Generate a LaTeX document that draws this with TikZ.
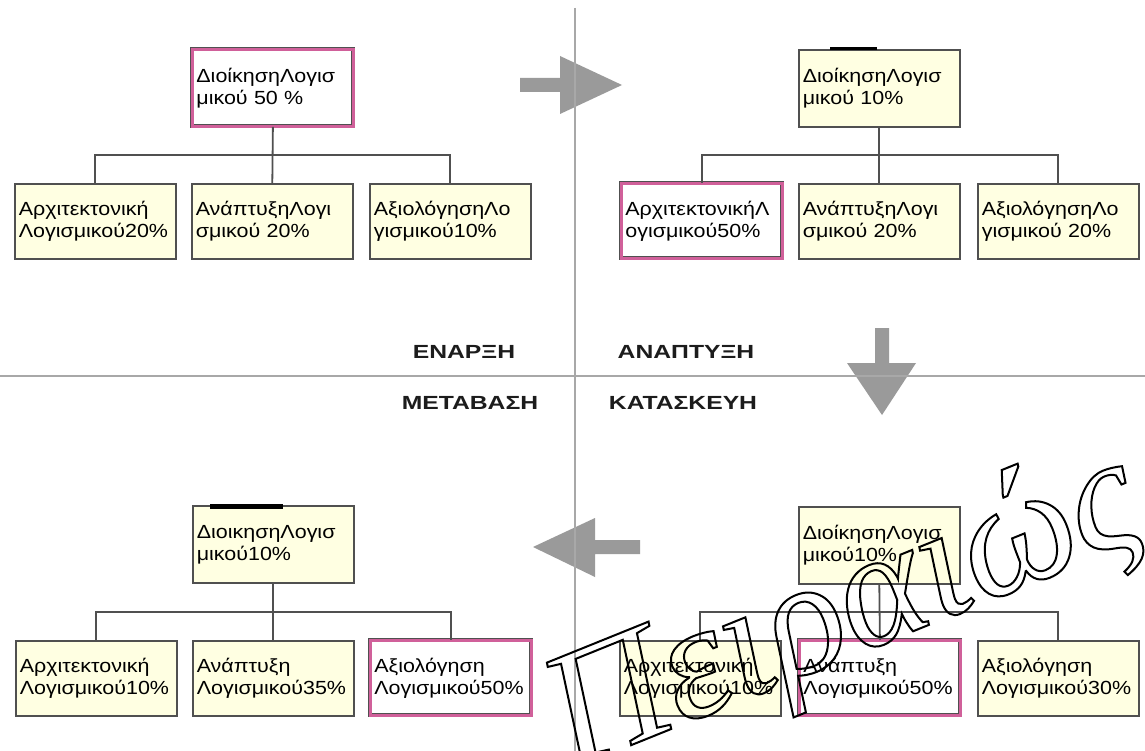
\documentclass[tikz,border=0pt]{standalone}
\usepackage{fontspec}
\setmainfont{Liberation Sans}
\newfontfamily\boxfont[FakeStretch=1.13]{Liberation Sans}
\newfontfamily\phasefont[FakeStretch=1.3]{Liberation Sans}
\newfontfamily\markfont{Liberation Serif}
\usetikzlibrary{calc}

\definecolor{boxfill}{HTML}{FFFFE2}
\definecolor{boxline}{HTML}{505050}
\definecolor{hilite}{HTML}{D0609A}
\definecolor{divider}{HTML}{A8A8A8}
\definecolor{arrowgray}{HTML}{9A9A9A}
\definecolor{phaseink}{HTML}{1C1C1C}

\tikzset{
  unit/.style={anchor=north west, draw=boxline, line width=1.6pt, fill=boxfill,
    inner xsep=4pt, inner ysep=0pt, text width=153pt, align=left,
    font=\boxfont\fontsize{19}{22}\selectfont},
  rootbox/.style={unit, minimum height=77pt},
  childbox/.style={unit, minimum height=75pt},
  hot/.style={fill=white, draw=boxline, line width=0.8pt, double=hilite, double distance=2.4pt},
  link/.style={draw=boxline, line width=1.8pt},
  phase/.style={font=\phasefont\bfseries\fontsize{19}{22}\selectfont, text=phaseink},
  blockarrow/.style={fill=arrowgray},
  rule/.style={draw=divider, line width=2.6pt}
}

\begin{document}
\begin{tikzpicture}[x=1pt, y=-1pt]
\useasboundingbox[fill=white] (0,0) rectangle (1145,751);

% block arrows between the phases
\fill[blockarrow] (520,78) -- (560,78) -- (560,56) -- (622,85) -- (560,114) -- (560,92) -- (520,92) -- cycle;
\fill[blockarrow] (875,328) -- (889,328) -- (889,363) -- (916,363) -- (882,415) -- (847,363) -- (875,363) -- cycle;
\fill[blockarrow] (640,540) -- (595,540) -- (595,518) -- (533,547) -- (595,577) -- (595,554) -- (640,554) -- cycle;

% quadrant dividers
\draw[rule] (575,8) -- (575,751);
\draw[rule] (0,376) -- (1145,376);

% phase names
\node[phase] (enarxi) at (464,352) {ΕΝΑΡΞΗ};
\node[phase] (anaptyxi) at (686,352) {ΑΝΑΠΤΥΞΗ};
\node[phase] (metavasi) at (470,403) {ΜΕΤΑΒΑΣΗ};
\node[phase] (kataskevi) at (683,403) {ΚΑΤΑΣΚΕΥΗ};

% ---- inception
\node[rootbox, hot] (aR) at (192,49) {ΔιοίκησηΛογισ\\μικού 50 \%};
\node[childbox] (aA) at (14,183) {Αρχιτεκτονική\\Λογισμικού20\%};
\node[childbox] (aB) at (191,183) {ΑνάπτυξηΛογι\\σμικού 20\%};
\node[childbox] (aC) at (369,183) {ΑξιολόγησηΛο\\γισμικού10\%};
\draw[link] (aR.south) -- (aB.north);
\draw[link] (aA.north) |- ($(aR.south)!.5!(aB.north)$) -| (aC.north);

% ---- elaboration
\node[rootbox] (bR) at (798,49) {ΔιοίκησηΛογισ\\μικού 10\%};
\node[childbox, hot] (bA) at (621,183) {ΑρχιτεκτονικήΛ\\ογισμικού50\%};
\node[childbox] (bB) at (798,183) {ΑνάπτυξηΛογι\\σμικού 20\%};
\node[childbox] (bC) at (977,183) {ΑξιολόγησηΛο\\γισμικού 20\%};
\draw[link] (bR.south) -- (bB.north);
\draw[link] (bA.north) |- ($(bR.south)!.5!(bB.north)$) -| (bC.north);
\draw[line width=3pt, black] ($(bR.north west)+(32,0)$) -- ($(bR.north west)+(79,0)$);

% ---- construction
\node[rootbox] (cR) at (798,506) {ΔιοίκησηΛογισ\\μικού10\%};
\node[childbox] (cA) at (619,640) {Αρχιτεκτονική\\Λογισμικού10\%};
\node[childbox, hot] (cB) at (799,640) {Ανάπτυξη\\Λογισμικού50\%};
\node[childbox] (cC) at (977,640) {Αξιολόγηση\\Λογισμικού30\%};
\draw[link] (cR.south) -- (cB.north);
\draw[link] (cA.north) |- ($(cR.south)!.5!(cB.north)$) -| (cC.north);

% ---- transition
\node[rootbox] (dR) at (192,505) {ΔιοικησηΛογισ\\μικού10\%};
\node[childbox] (dA) at (15,640) {Αρχιτεκτονική\\Λογισμικού10\%};
\node[childbox] (dB) at (192,640) {Ανάπτυξη\\Λογισμικού35\%};
\node[childbox, hot] (dC) at (370,640) {Αξιολόγηση\\Λογισμικού50\%};
\draw[link] (dR.south) -- (dB.north);
\draw[link] (dA.north) |- ($(dR.south)!.5!(dB.north)$) -| (dC.north);
\draw[line width=5pt, black] ($(dR.north west)+(18,1)$) -- ($(dR.north west)+(91,1)$);

% outlined lettering across the lower right
\node[rotate=22, inner sep=0pt] (stamp) at (845,615)
  {\markfont\itshape\fontsize{165}{165}\selectfont\special{pdf:literal direct 1 Tr 2 w}Πειραιώς\special{pdf:literal direct 0 Tr}};
\end{tikzpicture}
\end{document}
